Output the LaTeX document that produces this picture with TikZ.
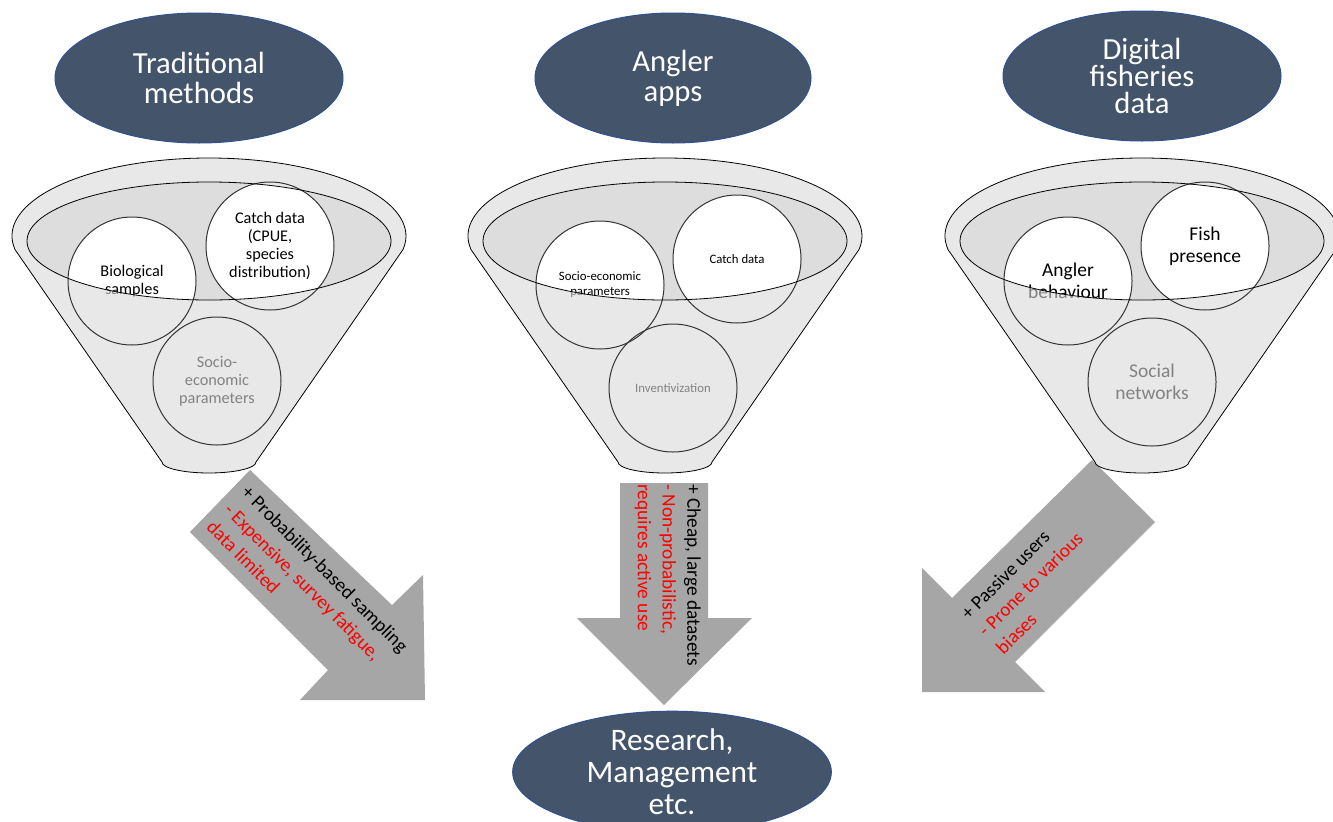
\documentclass[tikz,border=0pt]{standalone}
\usepackage{fontspec}
\setmainfont{Carlito}
\usepackage{xcolor}
\usepackage{tikz}
\usetikzlibrary{positioning,%
  shapes.geometric,%
  calc%
}

\definecolor{slate}{HTML}{44546A}
\definecolor{slateline}{HTML}{2F528F}
\definecolor{arrowgray}{HTML}{A6A6A6}
\definecolor{funnelgray}{HTML}{D9D9D9}
\definecolor{innergray}{HTML}{DDDDDD}

\tikzset{
  source/.style={ellipse, fill=slate, draw=slateline, line width=0.75pt,
    text=white, align=center, inner sep=0pt, minimum height=97.5pt,
    font=\fontsize{23}{22.5}\selectfont},
  bubble/.style={circle, fill=white, minimum size=96pt, inner sep=0pt, align=center},
  pros/.style={align=left, inner sep=0pt, font=\fontsize{14.5}{18.5}\selectfont},
}

\begin{document}
\begin{tikzpicture}[x=0.75pt, y=-0.75pt]
  \useasboundingbox (0,0) rectangle (1333,821);
  \fill[white] (0,0) rectangle (1333,821);
  \clip (0,0) rectangle (1333,821);

  % block arrows
  \fill[arrowgray] (250,470) -- (392,605) -- (423,575) -- (425,700) -- (300,700) -- (328,670) -- (190,532) -- cycle;
  \fill[arrowgray] (620,483) -- (708,483) -- (708,618) -- (752,618) -- (664,705) -- (577,618) -- (620,618) -- cycle;
  \fill[arrowgray] (1092,460) -- (952,598) -- (922,568) -- (922,692) -- (1045,692) -- (1015,662) -- (1155,522) -- cycle;

  \node[pros, rotate=-45, anchor=north west] (tradnote) at (250,484)
    {+ Probability-based sampling\\\textcolor{red}{- Expensive, survey fatigue,}\\\textcolor{red}{data limited}};
  \node[pros, rotate=-90, anchor=north west] (appnote) at (701,484)
    {+ Cheap, large datasets\\\textcolor{red}{- Non-probabilistic,}\\\textcolor{red}{requires active use}};
  \node[pros, rotate=45, anchor=north west] (digitalnote) at (959,611)
    {+ Passive users\\\textcolor{red}{- Prone to various}\\\textcolor{red}{biases}};

  % funnel mouths
  \foreach \cx in {209,665,1142}
    \fill[innergray] (\cx,241) ellipse[x radius=182, y radius=59];

  % contents of the funnels
  \node[bubble, font=\fontsize{12.2}{13.5}\selectfont] (bio) at (132,281) {Biological\\samples};
  \node[bubble, font=\fontsize{12.2}{13.5}\selectfont] (catch) at (270,246) {Catch data\\(CPUE,\\species\\distribution)};
  \node[bubble, font=\fontsize{12.2}{13.5}\selectfont] (socio) at (217,381) {Socio-\\economic\\parameters};

  \node[bubble, font=\fontsize{9.6}{11.25}\selectfont] (appsocio) at (600,285) {Socio-economic\\parameters};
  \node[bubble, font=\fontsize{9.6}{11.25}\selectfont] (appcatch) at (737,259) {Catch data};
  \node[bubble, font=\fontsize{9.6}{11.25}\selectfont] (incentive) at (673,388) {Inventivization};

  \node[bubble, font=\fontsize{14.6}{16.5}\selectfont] (behaviour) at (1068,281) {Angler\\behaviour};
  \node[bubble, font=\fontsize{14.6}{16.5}\selectfont] (fish) at (1205,246) {Fish\\presence};
  \node[bubble, font=\fontsize{14.6}{16.5}\selectfont] (social) at (1152,382) {Social\\networks};

  % see-through front of the funnels
  \foreach \cx in {209,665,1142} {
    \fill[funnelgray, fill opacity=0.6, even odd rule]
      (\cx-47,462) -- ($(\cx,236)+(170:197 and 78)$)
      arc[start angle=170, end angle=370, x radius=197, y radius=78]
      -- (\cx+47,462) arc[start angle=0, end angle=180, x radius=47, y radius=11] -- cycle
      (\cx,241) ellipse[x radius=182, y radius=59];
  }
  \foreach \b in {bio,catch,socio,appsocio,appcatch,incentive,behaviour,fish,social}
    \draw[black!80, line width=0.75pt] (\b.center) circle[radius=48pt];
  \foreach \cx in {209,665,1142} {
    \draw[line width=0.6pt]
      (\cx-47,462) -- ($(\cx,236)+(170:197 and 78)$)
      arc[start angle=170, end angle=370, x radius=197, y radius=78]
      -- (\cx+47,462) arc[start angle=0, end angle=180, x radius=47, y radius=11] -- cycle;
    \draw[line width=0.6pt] (\cx,241) ellipse[x radius=182, y radius=59];
  }

  % sources and outcome
  \node[source, minimum width=216pt] (trad) at (199,78) {Traditional\\methods};
  \node[source, minimum width=207pt] (apps) at (673,78) {Angler\\apps};
  \node[source, minimum width=208.5pt, font=\fontsize{23}{20}\selectfont] (digital) at (1142,76) {Digital\\fisheries\\data};
  \node[source, minimum width=239pt, minimum height=85.5pt, font=\fontsize{23.5}{24}\selectfont] (research) at (672,772) {Research,\\Management\\etc.};
\end{tikzpicture}
\end{document}
